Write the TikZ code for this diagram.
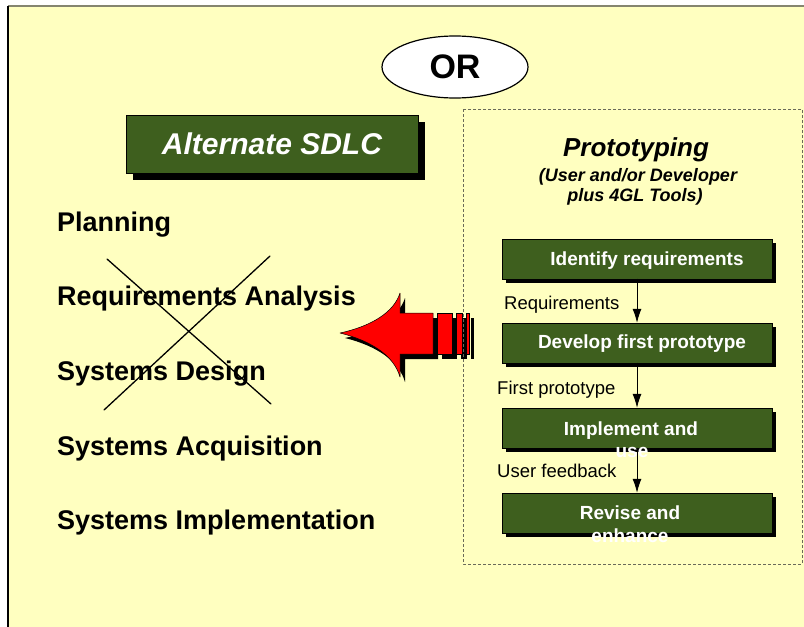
\documentclass[tikz,border=0pt]{standalone}
\usepackage{fontspec}
\setmainfont{Liberation Sans}
\usetikzlibrary{shapes.geometric,shadows,arrows.meta}

\begin{document}
\begin{tikzpicture}[x=1pt,y=-1pt,line cap=round,
  stage/.style={anchor=base west,inner sep=0pt,font=\fontsize{27}{30}\selectfont\bfseries},
  gbox/.style={draw=black,line width=0.5pt,fill=boxgreen,minimum width=270pt,minimum height=40pt,inner sep=0pt,
    drop shadow={shadow xshift=4pt,shadow yshift=-4pt,opacity=1,fill=black}},
  gtext/.style={anchor=base,inner sep=0pt,text=white,font=\fontsize{19}{22}\selectfont\bfseries},
  flow/.style={-{Latex[length=14pt,width=9pt]},line width=0.8pt},
  flowlabel/.style={anchor=base west,inner sep=0pt,font=\fontsize{18.5}{20}\selectfont}]
\definecolor{bgyellow}{HTML}{FFFFC0}
\definecolor{boxgreen}{HTML}{3E5F1E}
\definecolor{rimgray}{HTML}{85856F}
\definecolor{arrowred}{HTML}{FF0000}
\useasboundingbox (0,0) rectangle (804,627);
\fill[white] (0,0) rectangle (804,627);
\fill[bgyellow] (8,6) rectangle (804,627);
\draw[rimgray,line width=2pt,line cap=butt] (8,6) -- (804,6);
\draw[black,line width=1.5pt,line cap=butt] (8,6) -- (8,627);
\node (orsign) [ellipse,draw,line width=1.2pt,fill=white,minimum width=146pt,minimum height=62pt,inner sep=0pt,font=\fontsize{34}{34}\selectfont\bfseries] at (455,67) {OR};
\node (altsdlc) [draw=black,line width=0.5pt,fill=boxgreen,minimum width=292pt,minimum height=58pt,inner sep=0pt,text=white,font=\fontsize{30}{30}\selectfont\bfseries\itshape,
  drop shadow={shadow xshift=7pt,shadow yshift=-7pt,opacity=1,fill=black}] at (272,144) {Alternate SDLC};
\node (plan) [stage] at (57,231) {Planning};
\node (reqa) [stage] at (57,305) {Requirements Analysis};
\node (sysd) [stage] at (57,380) {Systems Design};
\node (sysa) [stage] at (57,455) {Systems Acquisition};
\node (sysi) [stage] at (57,529) {Systems Implementation};
\draw[line width=1.3pt] (107,259) -- (271,404);
\draw[line width=1.3pt] (270,256) -- (104,410);
\begin{scope}[shift={(5,5)}]
\fill[black] (340,333) .. controls (372,326) and (394,312) .. (400,293) -- (400,313) -- (433,313) -- (433,354) -- (400,354) -- (400,377) .. controls (394,356) and (372,341) .. (340,333) -- cycle;
\fill[black] (437,313) rectangle (452,354);
\fill[black] (456,313) rectangle (462,354);
\fill[black] (466,313) rectangle (469,354);
\end{scope}
\filldraw[fill=arrowred,draw=black,line width=0.5pt,line join=round] (340,333) .. controls (372,326) and (394,312) .. (400,293) -- (400,313) -- (433,313) -- (433,354) -- (400,354) -- (400,377) .. controls (394,356) and (372,341) .. (340,333) -- cycle;
\filldraw[fill=arrowred,draw=black,line width=0.5pt] (437,313) rectangle (452,354);
\filldraw[fill=arrowred,draw=black,line width=0.5pt] (456,313) rectangle (462,354);
\filldraw[fill=arrowred,draw=black,line width=0.5pt] (466,313) rectangle (469,354);
\draw[rimgray!80!black,line width=0.8pt,dash pattern=on 3pt off 2pt,line cap=butt] (463,109) rectangle (802,564);
\node (prototitle) [anchor=base,inner sep=0pt,font=\fontsize{26}{28}\selectfont\bfseries\itshape] at (636,156) {Prototyping};
\node (protousers) [anchor=base,inner sep=0pt,font=\fontsize{18}{20}\selectfont\bfseries\itshape] at (638,181) {(User and/or Developer};
\node (prototools) [anchor=base,inner sep=0pt,font=\fontsize{18}{20}\selectfont\bfseries\itshape] at (635,201) {plus 4GL Tools)};
\node (identify) [gbox] at (637,259) {};
\node (develop) [gbox] at (637,343) {};
\node (implement) [gbox] at (637,428) {};
\node (revise) [gbox] at (637,513) {};
\draw[flow] (identify.south) -- (develop.north);
\draw[flow] (develop.south) -- (implement.north);
\draw[flow] (implement.south) -- (revise.north);
\node (identifytxt) [gtext] at (647,265) {Identify requirements};
\node (developtxt) [gtext] at (642,348) {Develop first prototype};
\node (implementtxt) [gtext] at (631,435) {Implement and};
\node (implementuse) [gtext] at (632,457) {use};
\node (revisetxt) [gtext] at (630,519) {Revise and};
\node (reviseenh) [gtext] at (630,542) {enhance};
\node (reqlabel) [flowlabel] at (504,309) {Requirements};
\node (protolabel) [flowlabel] at (497,394) {First prototype};
\node (feedlabel) [flowlabel] at (497,477) {User feedback};
\end{tikzpicture}
\end{document}
